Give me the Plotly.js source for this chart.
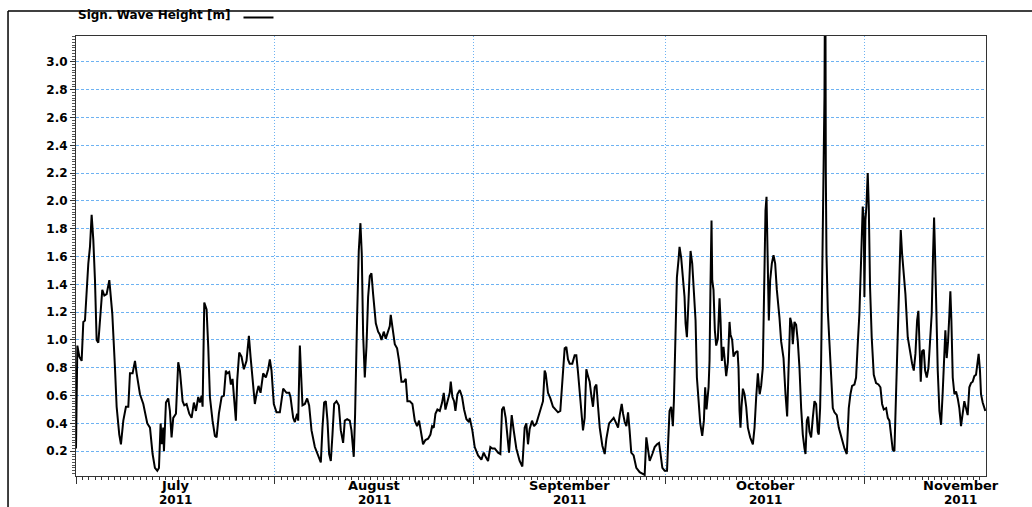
<!DOCTYPE html>
<html><head><meta charset="utf-8">
<script src="https://cdn.plot.ly/plotly-3.0.1.min.js"></script>
<style>html,body{margin:0;padding:0;background:#fff}#chart{width:1032px;height:507px}</style>
</head><body><div id="chart"></div>
<script>
const seriesName = 'Sign. Wave Height [m]';
const startDate = '2011-07-01';
const endDate = '2011-11-19 23:00';
// time of each sample, in days since 2011-07-01 00:00
const dayOffset = [
0,0.21,0.52,0.88,1.14,1.40,1.92,2.18,2.44,2.70,2.96,3.22,3.48,3.74,4.10,4.42,4.78,5.20,5.40,5.66,
6.08,6.34,6.75,7.01,7.38,7.79,8.16,8.42,8.83,9.20,9.46,9.98,10.50,11.12,11.54,11.95,12.31,12.68,12.94,13.20,
13.41,13.61,13.72,14.03,14.39,14.65,14.91,15.17,15.59,15.95,16.21,16.63,16.89,17.25,17.67,18.03,18.39,18.71,19.07,19.33,
19.59,19.75,20.01,20.37,20.63,20.89,21.30,21.67,21.93,22.29,22.71,23.07,23.38,23.59,23.90,24.16,24.42,24.79,24.94,25.15,
25.46,25.82,26.19,26.60,26.97,27.23,27.54,27.90,28.16,28.47,28.79,29.20,29.62,29.98,30.24,30.50,30.86,31.28,
31.80,32.32,32.84,33.26,33.46,33.88,34.14,34.50,34.66,34.92,35.07,35.33,35.70,36.06,36.37,36.74,37.26,37.78,38.19,38.45,
38.71,38.97,39.23,39.49,39.75,40.01,40.27,40.64,41.00,41.31,41.67,41.93,42.30,42.71,42.97,43.33,43.54,43.85,44.11,44.37,
44.58,44.79,45.05,45.31,45.57,45.83,46.09,46.35,46.77,47.13,47.39,47.65,48.01,48.32,48.69,48.95,49.10,49.36,49.73,50.09,
50.40,50.77,51.13,51.44,51.70,52.07,52.48,52.85,53.21,53.52,53.78,54.14,54.51,54.92,55.29,55.55,55.81,56.07,56.38,56.75,
57.11,57.37,57.63,57.94,58.30,58.46,58.72,58.98,59.19,59.50,59.87,60.23,60.54,60.91,61.32,
61.42,61.83,62.20,62.72,63.24,63.60,63.91,64.28,64.64,64.95,65.32,65.84,66.20,66.46,66.72,67.03,67.55,67.97,68.28,68.69,
69.21,69.63,69.99,70.25,70.51,70.77,71.14,71.45,71.81,72.07,72.44,72.85,73.11,73.27,73.63,74.00,74.41,74.82,75.19,75.55,
75.86,76.23,76.49,76.75,77.01,77.42,77.79,78.05,78.31,78.72,79.09,79.35,79.61,79.87,80.13,80.39,80.65,80.92,81.18,81.44,
81.70,82.11,82.48,82.74,83.16,83.52,83.88,84.19,84.56,84.82,85.13,85.34,85.60,85.86,86.12,86.36,86.62,86.99,87.41,87.93,
88.35,88.71,88.97,89.23,89.49,89.91,90.27,90.64,90.95,91.16,91.47,91.83,92.20,
92.39,92.59,92.85,93.11,93.27,93.53,93.74,94.00,94.15,94.41,94.67,94.93,95.09,95.30,95.51,95.71,95.87,96.13,96.39,96.65,
96.86,97.17,97.38,97.69,97.95,98.15,98.36,98.68,98.83,98.99,99.14,99.25,99.45,99.66,99.87,100.13,100.39,100.55,100.75,101.01,
101.17,101.43,101.69,101.95,102.10,102.36,102.57,102.88,103.20,103.35,103.51,103.66,103.82,104.03,104.29,104.55,104.81,105.17,105.59,105.85,
106.11,106.37,106.65,106.88,107.14,107.40,107.56,107.72,107.87,108.08,108.29,108.55,108.81,109.07,109.33,109.64,
109.74,110.00,110.37,110.68,110.94,111.15,111.41,111.67,111.82,112.08,112.34,112.60,112.86,113.12,113.38,113.64,113.80,114.01,114.22,114.42,
114.68,114.94,115.20,115.46,115.72,115.87,116.08,116.24,116.40,116.55,116.66,116.76,116.81,116.92,116.97,117.07,117.28,117.54,117.80,118.06,
118.32,118.68,118.99,119.36,119.88,120.24,120.55,120.81,121.07,121.43,121.69,121.95,122.21,122.47,122.73,122.89,122.99,123.15,123.30,123.51,
123.67,123.87,124.13,124.45,124.81,125.18,125.49,125.75,126.01,126.38,126.64,126.89,127.15,127.41,127.67,127.93,128.19,128.45,128.66,128.87,
129.13,129.39,129.75,130.11,130.43,130.69,130.95,131.21,131.41,131.57,131.78,131.99,132.25,132.46,132.72,132.98,133.23,133.49,133.70,133.86,
134.01,134.17,134.43,134.69,134.95,135.21,135.46,135.62,135.83,136.04,136.25,136.40,136.56,136.77,137.03,137.29,137.55,137.80,138.06,138.32,
138.58,138.84,139.10,139.36,139.62,139.88,140.14,140.40,140.66,140.81,141.02,141.18,141.44,141.85
];
// significant wave height [m]
const waveHeight = [
0.22,0.96,0.88,0.85,1.13,1.14,1.55,1.67,1.90,1.72,1.43,1.00,0.98,1.14,1.36,1.32,1.33,1.43,1.32,1.19,
0.80,0.52,0.32,0.25,0.42,0.52,0.52,0.76,0.76,0.85,0.76,0.61,0.54,0.40,0.37,0.18,0.08,0.06,0.08,0.40,
0.25,0.37,0.20,0.55,0.58,0.49,0.30,0.44,0.47,0.84,0.78,0.56,0.53,0.54,0.47,0.44,0.55,0.49,0.59,0.55,
0.60,0.52,1.27,1.22,0.95,0.59,0.42,0.31,0.30,0.47,0.59,0.60,0.78,0.76,0.77,0.68,0.72,0.49,0.42,0.71,
0.91,0.88,0.79,0.85,1.03,0.88,0.71,0.54,0.61,0.67,0.62,0.76,0.73,0.79,0.86,0.78,0.54,0.48,
0.48,0.65,0.62,0.62,0.59,0.44,0.41,0.47,0.42,0.96,0.80,0.53,0.54,0.58,0.53,0.35,0.23,0.16,0.12,0.37,
0.55,0.56,0.42,0.18,0.13,0.32,0.54,0.56,0.53,0.35,0.26,0.42,0.43,0.42,0.35,0.16,0.47,1.16,1.64,1.84,
1.62,1.04,0.73,0.95,1.31,1.46,1.48,1.33,1.12,1.06,1.04,1.00,1.06,1.01,1.06,1.10,1.18,1.10,0.97,0.94,
0.85,0.70,0.70,0.72,0.56,0.56,0.54,0.42,0.38,0.42,0.35,0.25,0.28,0.29,0.32,0.38,0.37,0.47,0.50,0.49,
0.55,0.62,0.50,0.55,0.62,0.70,0.59,0.56,0.49,0.61,0.64,0.59,0.50,0.43,0.41,
0.44,0.35,0.23,0.17,0.14,0.19,0.16,0.13,0.23,0.22,0.22,0.19,0.18,0.50,0.52,0.44,0.19,0.46,0.35,0.22,
0.13,0.09,0.37,0.40,0.25,0.36,0.42,0.38,0.40,0.44,0.50,0.56,0.78,0.76,0.62,0.58,0.52,0.50,0.48,0.49,
0.68,0.94,0.95,0.86,0.83,0.83,0.89,0.89,0.77,0.54,0.35,0.44,0.79,0.74,0.70,0.60,0.52,0.66,0.68,0.52,
0.37,0.24,0.18,0.29,0.40,0.42,0.44,0.41,0.37,0.46,0.54,0.47,0.41,0.38,0.48,0.35,0.19,0.17,0.08,0.05,
0.04,0.03,0.30,0.23,0.13,0.18,0.23,0.25,0.26,0.19,0.08,0.06,0.06,
0.28,0.49,0.52,0.38,0.56,1.00,1.45,1.58,1.67,1.59,1.45,1.31,1.12,1.02,1.24,1.48,1.64,1.55,1.33,1.14,
0.73,0.52,0.40,0.31,0.42,0.66,0.50,0.66,0.85,1.43,1.86,1.43,1.36,1.07,0.96,1.01,1.30,1.14,0.85,0.95,
0.84,0.74,0.84,1.13,1.04,1.00,0.88,0.91,0.92,0.80,0.49,0.37,0.52,0.65,0.61,0.52,0.37,0.30,0.25,0.37,
0.59,0.76,0.61,0.67,0.80,1.43,1.93,2.03,1.67,1.14,1.43,1.55,1.61,1.55,1.36,1.24,
1.16,0.99,0.87,0.61,0.45,0.78,1.16,1.11,0.97,1.13,1.11,0.99,0.80,0.51,0.32,0.22,0.18,0.42,0.45,0.34,
0.30,0.44,0.56,0.54,0.34,0.32,0.51,0.85,1.40,1.74,2.20,2.75,3.25,3.25,2.20,1.62,1.21,0.99,0.78,0.51,
0.48,0.46,0.37,0.30,0.22,0.18,0.51,0.61,0.67,0.68,0.73,0.97,1.19,1.57,1.96,1.86,1.31,1.86,1.96,2.20,
1.96,1.38,1.02,0.75,0.69,0.68,0.66,0.54,0.50,0.51,0.44,0.42,0.32,0.21,0.20,0.66,1.14,1.57,1.79,1.62,
1.47,1.33,1.02,0.90,0.83,0.78,0.90,1.14,1.21,0.99,0.70,0.92,0.93,0.78,0.73,0.80,0.99,1.19,1.62,1.88,
1.62,1.21,0.78,0.49,0.39,0.63,0.95,1.07,0.87,0.99,1.19,1.35,1.14,0.73,0.61,0.63,0.58,0.51,0.38,0.49,
0.56,0.51,0.46,0.66,0.69,0.70,0.74,0.75,0.87,0.90,0.78,0.61,0.55,0.49
];
const monthStarts = ['2011-07-01','2011-08-01','2011-09-01','2011-10-01','2011-11-01'];
const monthMids = ['2011-07-16 12:00','2011-08-16 12:00','2011-09-16 00:00','2011-10-16 12:00','2011-11-16 00:00'];
const monthNames = ['July','August','September','October','November'];
const yearLabels = ['2011','2011','2011','2011','2011'];

const t0 = Date.UTC(2011, 6, 1);
const fmt = ms => new Date(ms).toISOString().slice(0, 19).replace('T', ' ');
const times = dayOffset.map(d => fmt(t0 + d * 86400000));

const boldFont = (size) => ({family: 'DejaVu Sans', size: size, weight: 'bold', color: '#000'});
const gridBlue = '#6db2f2';

const annotations = [];
monthMids.forEach((m, i) => {
  annotations.push({x: m, xref: 'x', y: -0.0215, yref: 'paper', yanchor: 'middle', xanchor: 'center',
    text: monthNames[i], showarrow: false, font: boldFont(13), borderpad: 0});
  annotations.push({x: m, xref: 'x', y: -0.0535, yref: 'paper', yanchor: 'middle', xanchor: 'center',
    text: yearLabels[i], showarrow: false, font: boldFont(12), borderpad: 0});
});

const data = [{
  type: 'scatter', mode: 'lines', x: times, y: waveHeight, name: ' ',
  line: {color: '#000', width: 2}, showlegend: true
}];

const layout = {
  width: 1032, height: 507,
  margin: {l: 76, r: 46, t: 36, b: 31, autoexpand: false},
  paper_bgcolor: '#fff', plot_bgcolor: '#fff',
  font: {family: 'DejaVu Sans', color: '#000'},
  showlegend: true,
  legend: {x: 0, xanchor: 'left', y: 1.075, yanchor: 'top', orientation: 'h', bgcolor: 'rgba(0,0,0,0)',
    font: boldFont(12), title: {text: seriesName, side: 'left', font: boldFont(12)}},
  xaxis: {
    type: 'date', range: [startDate, endDate],
    tickmode: 'array', tickvals: monthStarts, ticktext: monthStarts.map(() => ''),
    ticks: 'outside', ticklen: 7, tickcolor: '#333', tickwidth: 1,
    showgrid: true, gridcolor: gridBlue, griddash: '1px,2px', gridwidth: 1,
    showline: true, linecolor: '#333', linewidth: 1, mirror: true, zeroline: false,
    minor: {tickmode: 'linear', tick0: startDate, dtick: 86400000, ticks: 'outside', ticklen: 3, tickcolor: '#333', showgrid: false}
  },
  yaxis: {
    range: [0.022, 3.186], tick0: 0, dtick: 0.2, tickformat: '.1f',
    ticks: 'outside', ticklen: 5, tickcolor: '#333',
    showgrid: true, gridcolor: gridBlue, griddash: '3px,2px', gridwidth: 1,
    showline: true, linecolor: '#333', linewidth: 1, mirror: true, zeroline: false,
    tickfont: boldFont(12),
    minor: {dtick: 0.02, ticks: 'outside', ticklen: 3, tickcolor: '#555', showgrid: false}
  },
  annotations: annotations,
  shapes: [
    {type: 'line', xref: 'paper', yref: 'paper', x0: -0.0747, x1: 1.06, y0: 1.057, y1: 1.057, line: {color: '#000', width: 1.5}},
    {type: 'line', xref: 'paper', yref: 'paper', x0: -0.0747, x1: -0.0747, y0: 1.057, y1: -0.08, line: {color: '#000', width: 1.5}}
  ]
};

Plotly.newPlot('chart', data, layout, {displayModeBar: false, staticPlot: true});
</script>
</body></html>
